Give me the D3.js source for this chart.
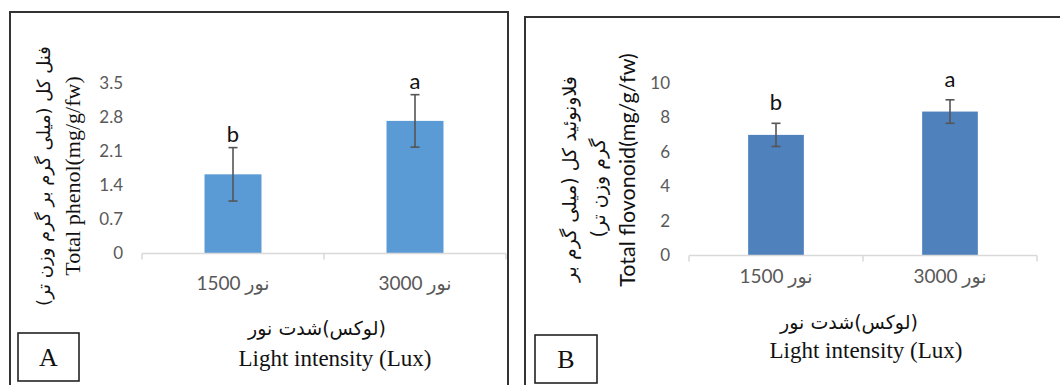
<!DOCTYPE html>
<html>
<head>
<meta charset="utf-8">
<script src="https://cdn.jsdelivr.net/npm/d3@7"></script>
<style>
  html, body { margin: 0; padding: 0; background: #fff; }
  svg { display: block; }
</style>
</head>
<body>
<div id="chart"></div>
<script>
// CHART DATA
const categories = ["نور 1500", "نور 3000"];

const phenolMeans = [1.63, 2.73];
const phenolErrors = [0.55, 0.54];
const phenolLetters = ["b", "a"];
const phenolTicks = [0, 0.7, 1.4, 2.1, 2.8, 3.5];

const flavMeans = [6.98, 8.33];
const flavErrors = [0.67, 0.68];
const flavLetters = ["b", "a"];
const flavTicks = [0, 2, 4, 6, 8, 10];

const xTitleFa = "(لوکس)شدت نور";
const xTitleEn = "Light intensity (Lux)";

const width = 1060;
const height = 385;

const svg = d3.select("#chart")
    .append("svg")
    .attr("width", width)
    .attr("height", height);

// DRAW ONE PANEL
function drawPanel(p) {
    const g = svg.append("g");

    // outer frame
    g.append("rect")
        .attr("x", p.frame[0]).attr("y", p.frame[1])
        .attr("width", p.frame[2]).attr("height", p.frame[3])
        .attr("fill", "none").attr("stroke", "#333").attr("stroke-width", 2);

    const x = d3.scaleBand()
        .domain(categories)
        .range(p.xRange)
        .paddingInner(p.pad)
        .paddingOuter(p.pad / 2);

    const y = d3.scaleLinear()
        .domain([0, p.ticks[p.ticks.length - 1]])
        .range(p.yRange);

    const rows = categories.map((c, i) => ({ c, v: p.means[i], e: p.errors[i], l: p.letters[i] }));

    // y axis labels
    const yAxis = g.append("g")
        .attr("transform", `translate(${p.xRange[0]},0)`)
        .call(d3.axisLeft(y).tickValues(p.ticks).tickSize(0).tickPadding(19).tickFormat(d => String(d)));
    yAxis.select(".domain").remove();
    yAxis.selectAll("text")
        .attr("font-family", "Lato, 'DejaVu Sans', sans-serif")
        .attr("font-size", 17)
        .attr("fill", "#595959");

    // bars
    g.selectAll(".bar")
        .data(rows)
        .join("rect")
        .attr("class", "bar")
        .attr("x", d => x(d.c))
        .attr("width", x.bandwidth())
        .attr("y", d => y(d.v))
        .attr("height", d => y(0) - y(d.v))
        .attr("fill", p.color);

    // x axis line + boundary ticks
    g.append("line")
        .attr("x1", p.xRange[0]).attr("x2", p.xRange[1])
        .attr("y1", y(0)).attr("y2", y(0))
        .attr("stroke", "#d9d9d9").attr("stroke-width", 1.5);
    g.selectAll(".bt")
        .data(d3.range(categories.length + 1))
        .join("line")
        .attr("class", "bt")
        .attr("x1", i => p.xRange[0] + i * x.step())
        .attr("x2", i => p.xRange[0] + i * x.step())
        .attr("y1", y(0)).attr("y2", y(0) + 6)
        .attr("stroke", "#d9d9d9").attr("stroke-width", 1.5);

    // category labels
    g.selectAll(".cat")
        .data(rows)
        .join("text")
        .attr("class", "cat")
        .attr("x", d => x(d.c) + x.bandwidth() / 2)
        .attr("y", p.catY)
        .attr("direction", "rtl")
        .attr("text-anchor", "middle")
        .attr("font-family", "Lato, 'DejaVu Sans', sans-serif")
        .attr("font-size", 19)
        .attr("fill", "#595959")
        .text(d => d.c);

    // error bars
    const eb = g.selectAll(".eb")
        .data(rows)
        .join("g")
        .attr("class", "eb")
        .attr("stroke", "#555")
        .attr("stroke-width", 1.6);
    eb.append("line")
        .attr("x1", d => x(d.c) + x.bandwidth() / 2)
        .attr("x2", d => x(d.c) + x.bandwidth() / 2)
        .attr("y1", d => y(d.v + d.e))
        .attr("y2", d => y(d.v - d.e));
    [1, -1].forEach(s => {
        eb.append("line")
            .attr("x1", d => x(d.c) + x.bandwidth() / 2 - 4.5)
            .attr("x2", d => x(d.c) + x.bandwidth() / 2 + 4.5)
            .attr("y1", d => y(d.v + s * d.e))
            .attr("y2", d => y(d.v + s * d.e));
    });

    // significance letters
    g.selectAll(".let")
        .data(rows)
        .join("text")
        .attr("class", "let")
        .attr("x", d => x(d.c) + x.bandwidth() / 2)
        .attr("y", d => y(d.v + d.e) - p.letterGap)
        .attr("text-anchor", "middle")
        .attr("font-family", "Lato, sans-serif")
        .attr("font-size", 22)
        .attr("fill", "#111")
        .text(d => d.l);

    // x titles
    g.append("text")
        .attr("x", p.xTitleX[0]).attr("y", p.xTitleY[0])
        .attr("direction", "rtl")
        .attr("text-anchor", "middle")
        .attr("font-family", "'DejaVu Sans', sans-serif")
        .attr("font-size", 19)
        .attr("fill", "#111")
        .text(xTitleFa);
    g.append("text")
        .attr("x", p.xTitleX[1]).attr("y", p.xTitleY[1])
        .attr("text-anchor", "middle")
        .attr("font-family", "'Liberation Serif', 'Times New Roman', serif")
        .attr("font-size", 23)
        .attr("fill", "#111")
        .text(xTitleEn);

    // y titles (rotated)
    p.yTitles.forEach(t => {
        g.append("text")
            .attr("transform", `translate(${t.x},${t.y}) rotate(-90)`)
            .attr("direction", t.rtl ? "rtl" : "ltr")
            .attr("text-anchor", "middle")
            .attr("dominant-baseline", "central")
            .attr("font-family", t.font)
            .attr("font-size", t.size)
            .attr("fill", "#111")
            .text(t.text);
    });

    // panel letter box
    g.append("rect")
        .attr("x", p.box[0]).attr("y", p.box[1])
        .attr("width", p.box[2]).attr("height", p.box[3])
        .attr("fill", "#fff").attr("stroke", "#222").attr("stroke-width", 1.6);
    g.append("text")
        .attr("x", p.box[0] + p.box[2] / 2)
        .attr("y", p.box[1] + p.box[3] / 2 + 9)
        .attr("text-anchor", "middle")
        .attr("font-family", "'Liberation Serif', serif")
        .attr("font-size", 26)
        .attr("fill", "#111")
        .text(p.name);
}

// PANEL A : TOTAL PHENOL
drawPanel({
    name: "A",
    frame: [10, 12, 498, 400],
    xRange: [142, 506],
    yRange: [253.5, 83.5],
    pad: 0.687,
    ticks: phenolTicks,
    means: phenolMeans,
    errors: phenolErrors,
    letters: phenolLetters,
    letterGap: 6,
    color: "#5b9bd5",
    catY: 290,
    xTitleX: [317, 335],
    xTitleY: [335, 366],
    yTitles: [
        { text: "فنل کل (میلی گرم بر گرم وزن تر)", x: 43, y: 176, rtl: true, font: "'DejaVu Sans', sans-serif", size: 18 },
        { text: "Total phenol(mg/g/fw)", x: 72, y: 176, rtl: false, font: "'Liberation Serif', serif", size: 22 }
    ],
    box: [18, 333, 61, 48]
});

// PANEL B : TOTAL FLAVONOID
drawPanel({
    name: "B",
    frame: [525, 17, 560, 400],
    xRange: [689, 1037],
    yRange: [255.5, 82.7],
    pad: 0.68,
    ticks: flavTicks,
    means: flavMeans,
    errors: flavErrors,
    letters: flavLetters,
    letterGap: 13,
    color: "#4f81bd",
    catY: 283,
    xTitleX: [849, 866],
    xTitleY: [329, 358],
    yTitles: [
        { text: "فلاونوئید کل (میلی گرم بر", x: 569, y: 179, rtl: true, font: "'DejaVu Sans', sans-serif", size: 19 },
        { text: "گرم وزن تر)", x: 598, y: 188, rtl: true, font: "'DejaVu Sans', sans-serif", size: 19 },
        { text: "Total flovonoid(mg/g/fw)", x: 627, y: 170, rtl: false, font: "Lato, sans-serif", size: 21.5 }
    ],
    box: [535, 335, 62, 48]
});
</script>
</body>
</html>
